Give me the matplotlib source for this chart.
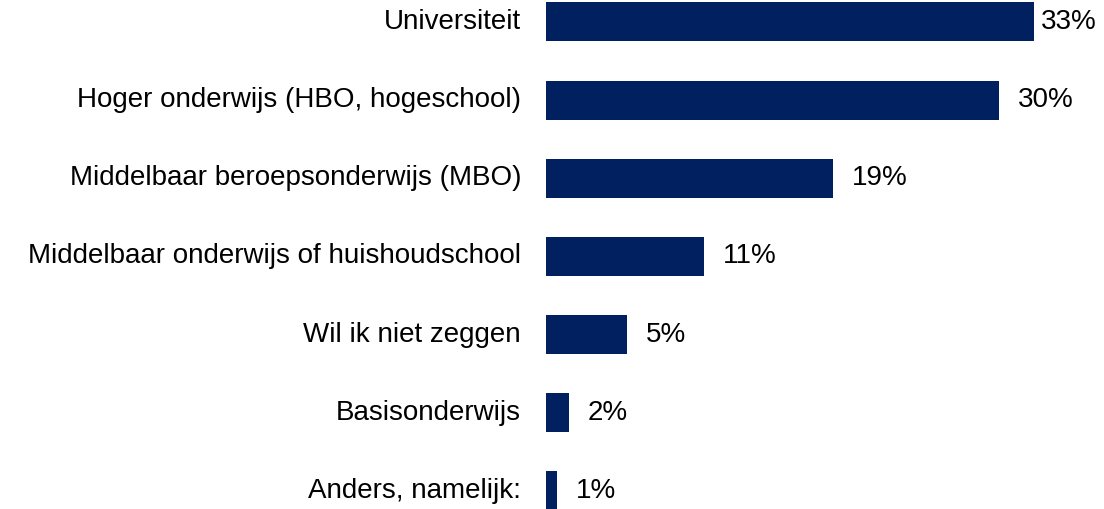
import matplotlib
matplotlib.use("Agg")
import matplotlib.pyplot as plt
import numpy as np

plt.rcParams["font.family"] = ["Liberation Sans", "DejaVu Sans"]

# ── Data ──
categories = [
    "Universiteit",
    "Hoger onderwijs (HBO, hogeschool)",
    "Middelbaar beroepsonderwijs (MBO)",
    "Middelbaar onderwijs of huishoudschool",
    "Wil ik niet zeggen",
    "Basisonderwijs",
    "Anders, namelijk:",
]
values = [32.5, 30.2, 19.1, 10.5, 5.4, 1.5, 0.7]
value_labels = ["33%", "30%", "19%", "11%", "5%", "2%", "1%"]

BAR_COLOR = "#002060"
W, H = 1104, 509

fig = plt.figure(figsize=(W / 100, H / 100), dpi=100)
ax = fig.add_axes([546 / W, 0, 1 - 546 / W, 1])

y = np.arange(len(categories))
ax.barh(y, values, height=0.5, color=BAR_COLOR)

xmax = (W - 546) / 15.0
ax.set_xlim(0, xmax)
ax.set_ylim(6.23, -0.28)

for yi, v, lab in zip(y, values, value_labels):
    # keep the label inside the canvas for the longest bar
    bar_end_px = v * 15.0
    gap = min(19, (W - 546) - bar_end_px - 63)
    ax.annotate(lab, (v, yi), xytext=(gap * 0.72, 0), textcoords="offset points",
                ha="left", va="center", fontsize=20, color="black")
    ax.annotate(categories[yi], (0, yi), xytext=(-25 * 0.72, 0), textcoords="offset points",
                ha="right", va="center", fontsize=20, color="black",
                annotation_clip=False)

ax.axis("off")

fig.savefig("out.png", dpi=100)
